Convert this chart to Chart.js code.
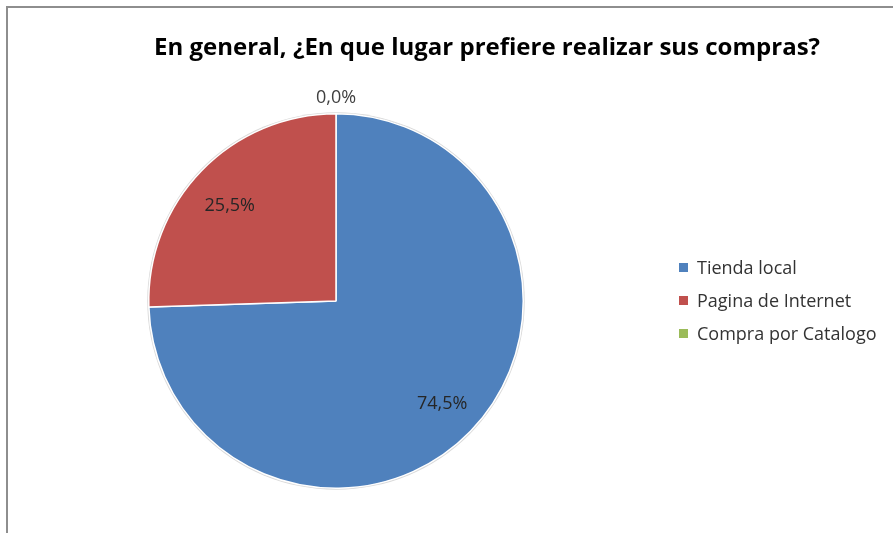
<!DOCTYPE html>
<html>
<head>
<meta charset="utf-8">
<script src="https://cdn.jsdelivr.net/npm/chart.js@4/dist/chart.umd.min.js"></script>
<style>
html,body{margin:0;padding:0;background:#fff;overflow:hidden;}
#wrap{position:relative;width:893px;height:533px;}
#frame{position:absolute;left:6px;top:6px;width:900px;height:540px;border-top:2px solid #8e8e8e;border-left:2px solid #8e8e8e;box-sizing:border-box;}
canvas{position:absolute;left:0;top:0;}
</style>
</head>
<body>
<div id="wrap">
<div id="frame"></div>
<canvas id="c" width="893" height="533"></canvas>
</div>
<script>
const title = "En general, ¿En que lugar prefiere realizar sus compras?";
const categories = ["Tienda local", "Pagina de Internet", "Compra por Catalogo"];
const values = [74.5, 25.5, 0.0];
const valueLabels = ["74,5%", "25,5%", "0,0%"];
const colors = ["#4F81BD", "#C0504D", "#9BBB59"];

const overlay = {
  id: 'overlay',
  beforeDatasetsDraw(chart) {
    const meta = chart.getDatasetMeta(0);
    const a = meta.data[0];
    if (!a) return;
    const ctx = chart.ctx;
    ctx.save();
    ctx.beginPath();
    ctx.arc(a.x, a.y, a.outerRadius + 1.5, 0, Math.PI * 2);
    ctx.fillStyle = '#d9d9d9';
    ctx.fill();
    ctx.restore();
  },
  afterDraw(chart) {
    const ctx = chart.ctx;
    ctx.save();
    ctx.fillStyle = '#000';
    ctx.font = 'bold 24px "Open Sans"';
    ctx.textAlign = 'center';
    ctx.textBaseline = 'middle';
    ctx.fillText(title, 487, 48);
    const meta = chart.getDatasetMeta(0);
    ctx.font = '18px "Open Sans"';
    meta.data.forEach((arc, i) => {
      const p = arc.getProps(['x','y','startAngle','endAngle','outerRadius'], true);
      const mid = (p.startAngle + p.endAngle) / 2;
      let r = values[i] === 0 ? p.outerRadius + 16 : p.outerRadius * 0.79;
      let lx = p.x + Math.cos(mid) * r;
      let ly = p.y + Math.sin(mid) * r;
      if (i === 1) ly += 8;
      ctx.fillStyle = values[i] === 0 ? '#404040' : '#262626';
      ctx.fillText(valueLabels[i], lx, ly);
    });
    ctx.textAlign = 'left';
    ctx.font = '18px "Open Sans"';
    categories.forEach((c, i) => {
      const y = 268 + i * 33;
      ctx.fillStyle = colors[i];
      ctx.fillRect(679, y - 5, 9, 9);
      ctx.fillStyle = '#333333';
      ctx.fillText(c, 697, y + 1);
    });
    ctx.restore();
  }
};

new Chart(document.getElementById('c'), {
  type: 'pie',
  data: {
    labels: categories,
    datasets: [{
      data: values,
      backgroundColor: colors,
      borderColor: '#ffffff',
      borderWidth: 1.5
    }]
  },
  options: {
    responsive: false,
    animation: false,
    layout: { padding: { left: 148, right: 369, top: 113, bottom: 44 } },
    plugins: { legend: { display: false }, title: { display: false }, tooltip: { enabled: false } }
  },
  plugins: [overlay]
});
</script>
</body>
</html>
